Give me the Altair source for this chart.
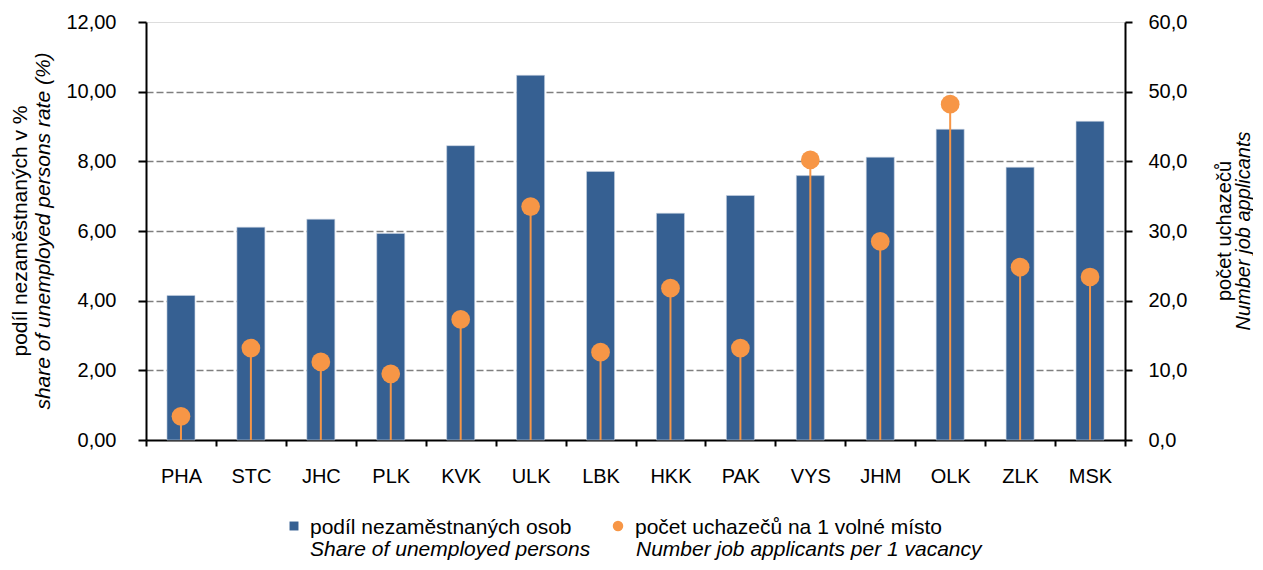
import altair as alt
import pandas as pd

# ---- data ----
regions = ["PHA", "STC", "JHC", "PLK", "KVK", "ULK", "LBK", "HKK", "PAK", "VYS", "JHM", "OLK", "ZLK", "MSK"]
unemployment_share = [4.15, 6.11, 6.34, 5.93, 8.45, 10.47, 7.71, 6.51, 7.02, 7.59, 8.12, 8.92, 7.83, 9.15]
applicants_per_vacancy = [3.4, 13.2, 11.2, 9.5, 17.3, 33.5, 12.6, 21.8, 13.2, 40.2, 28.5, 48.2, 24.8, 23.4]

left_ticks = [0, 2, 4, 6, 8, 10, 12]
right_ticks = [0, 10, 20, 30, 40, 50, 60]

left_title = ["podíl nezaměstnaných v %", "share of unemployed persons  rate (%)"]
right_title = ["počet uchazečů", "Number job applicants"]
legend_bar = ["podíl nezaměstnaných osob", "Share of unemployed persons"]
legend_dot = ["počet uchazečů na 1 volné místo", "Number job applicants per 1 vacancy"]

BLUE = "#366092"
ORANGE = "#F79646"
FONT = "Liberation Sans"
FS = 20
W, H = 979, 418

df = pd.DataFrame({"region": regions, "share": unemployment_share, "applicants": applicants_per_vacancy})
one = pd.DataFrame({"k": [0]})

x_enc = alt.X(
    "region:N", sort=regions,
    scale=alt.Scale(paddingInner=0, paddingOuter=0),
    axis=alt.Axis(title=None, labelAngle=0, tickBand="extent", tickSize=6, tickColor="black",
                  tickWidth=2, domainColor="black", domainWidth=2, labelPadding=20,
                  labelFont=FONT, labelFontSize=FS, labelColor="black", grid=False),
)

bars = alt.Chart(df).mark_bar(size=28, color=BLUE, stroke="#c9d3e3", strokeWidth=0.6).encode(
    x=x_enc,
    y=alt.Y("share:Q",
            scale=alt.Scale(domain=[0, 12], nice=False),
            axis=alt.Axis(title=None, values=left_ticks,
                          labelExpr="replace(format(datum.value, '.2f'), '.', ',')",
                          tickSize=8, tickColor="black", tickWidth=2,
                          domainColor="black", domainWidth=2, labelPadding=22,
                          labelFont=FONT, labelFontSize=FS, labelColor="black",
                          grid=True, gridColor="#7f7f7f", gridDash=[7, 3], gridWidth=1.6,
                          gridOpacity={"condition": {"test": "datum.value === 0 || datum.value === 12", "value": 0}, "value": 1})),
)

stems = alt.Chart(df).mark_rule(color=ORANGE, strokeWidth=2).encode(
    x=alt.X("region:N", sort=regions),
    y=alt.Y("applicants:Q", scale=alt.Scale(domain=[0, 60], nice=False), axis=None),
    y2=alt.datum(0),
)

dots = alt.Chart(df).mark_circle(size=350, color=ORANGE, opacity=1).encode(
    x=alt.X("region:N", sort=regions),
    y=alt.Y("applicants:Q",
            scale=alt.Scale(domain=[0, 60], nice=False),
            axis=alt.Axis(title=None, orient="right", values=right_ticks,
                          labelExpr="replace(format(datum.value, '.1f'), '.', ',')",
                          tickSize=7, tickColor="black", tickWidth=2,
                          domainColor="black", domainWidth=2, labelPadding=16,
                          labelFont=FONT, labelFontSize=FS, labelColor="black", grid=False)),
)


def txt(s, x, y, italic=False, angle=0, align="left", baseline="alphabetic", size=FS):
    kw = dict(text=s, font=FONT, fontSize=size, color="black", align=align, baseline=baseline)
    if italic:
        kw["fontStyle"] = "italic"
    if angle:
        kw["angle"] = angle
    return alt.Chart(one).mark_text(**kw).encode(x=alt.value(x), y=alt.value(y))


annotations = [
    txt(left_title[0], -125, 209, angle=270, align="center", baseline="middle", size=21),
    txt(left_title[1], -102, 209, italic=True, angle=270, align="center", baseline="middle", size=21),
    txt(right_title[0], 1079, 209, angle=270, align="center", baseline="middle"),
    txt(right_title[1], 1098, 209, italic=True, angle=270, align="center", baseline="middle"),
    txt(legend_bar[0], 164, 512, size=21),
    txt(legend_bar[1], 164, 534, italic=True, size=21),
    txt(legend_dot[0], 489, 512, size=21),
    txt(legend_dot[1], 490, 534, italic=True, size=21),
    alt.Chart(one).mark_square(size=80, color=BLUE, opacity=1).encode(x=alt.value(148), y=alt.value(504)),
    alt.Chart(one).mark_circle(size=110, color=ORANGE, opacity=1).encode(x=alt.value(472), y=alt.value(504)),
]

chart = alt.layer(bars, stems, dots, *annotations).resolve_scale(y="independent").properties(
    width=W, height=H,
    autosize=alt.AutoSizeParams(type="none"),
    padding={"left": 138, "top": 14, "right": 128, "bottom": 122},
).configure_view(stroke="black", strokeWidth=2).configure(background="white")

chart.save("out.html", embed_options={"renderer": "svg", "actions": False})
